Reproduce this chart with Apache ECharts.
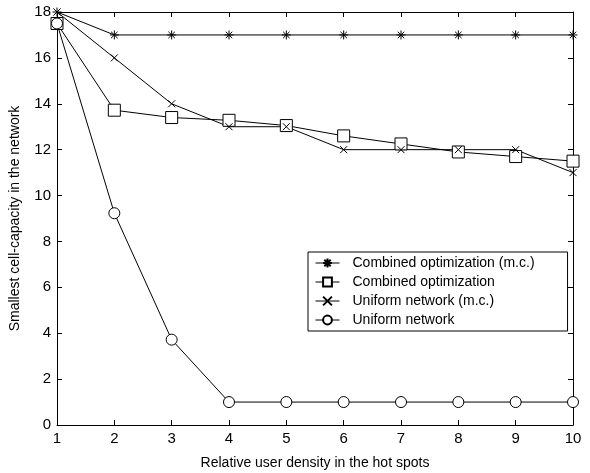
<!DOCTYPE html>
<html><head><meta charset="utf-8">
<script src="https://cdn.jsdelivr.net/npm/echarts@6/dist/echarts.min.js"></script>
<style>html,body{margin:0;padding:0;background:#fff}#c{width:590px;height:473px}</style>
</head><body><div id="c"></div>
<script>
const xCats = [1,2,3,4,5,6,7,8,9,10];
const combinedMC = [18,17,17,17,17,17,17,17,17,17];
const combined = [17.5,13.72,13.4,13.28,13.05,12.6,12.25,11.9,11.7,11.5];
const uniformMC = [18,16,14,13,13,12,12,12,12,11];
const uniform = [17.5,9.23,3.72,1,1,1,1,1,1,1];
const names = ['Combined optimization (m.c.)','Combined optimization','Uniform network (m.c.)','Uniform network'];

const starPath = 'path://M0,-1L0,1M-1,0L1,0M-0.72,-0.72L0.72,0.72M-0.72,0.72L0.72,-0.72';
const xPath = 'path://M-1,-1L1,1M-1,1L1,-1';
const font = 'Liberation Sans, Arial, sans-serif';

function pair(arr){ return arr.map((v,i)=>[xCats[i], v]); }
function ser(name, data, symbol, size){
  return {
    name, type:'line', data: pair(data), symbol, symbolSize: size,
    showAllSymbol: true,
    lineStyle:{color:'#000', width:1},
    itemStyle:{color: symbol.startsWith('path') ? 'none' : '#fff', borderColor:'#000', borderWidth:1},
    emphasis:{disabled:true}, animation:false, clip:false
  };
}
const chart = echarts.init(document.getElementById('c'));
const axisCommon = {
  axisLine:{show:true, onZero:false, lineStyle:{color:'#000', width:1}},
  axisTick:{show:true, inside:true, length:5, lineStyle:{color:'#000'}},
  splitLine:{show:false}
};
chart.setOption({
  animation:false,
  backgroundColor:'#fff',
  grid:{left:57, right:17, top:12, bottom:48, containLabel:false, outerBoundsMode:'none'},
  xAxis:[
    Object.assign({type:'value', min:1, max:10, interval:1, position:'bottom',
      name:'Relative user density in the hot spots', nameLocation:'middle', nameGap:31,
      nameTextStyle:{fontFamily:font, fontSize:14, color:'#000'},
      axisLabel:{fontFamily:font, fontSize:15, color:'#000', margin:6}}, axisCommon),
    Object.assign({type:'value', min:1, max:10, interval:1, position:'top', axisLabel:{show:false}}, axisCommon)
  ],
  yAxis:[
    Object.assign({type:'value', min:0, max:18, interval:2, position:'left',
      name:'Smallest cell-capacity in the network', nameLocation:'middle', nameGap:35,
      nameTextStyle:{fontFamily:font, fontSize:14, color:'#000'},
      axisLabel:{fontFamily:font, fontSize:15, color:'#000', margin:6}}, axisCommon),
    Object.assign({type:'value', min:0, max:18, interval:2, position:'right', axisLabel:{show:false}}, axisCommon)
  ],
  legend:{
    orient:'vertical', left:308, top:252, itemGap:5, itemWidth:24, itemHeight:11,
    backgroundColor:'#fff', borderColor:'#000', borderWidth:1, padding:[4,33,4,7],
    lineStyle:{width:1},
    textStyle:{fontFamily:font, fontSize:14, color:'#000', padding:[0,0,0,8]},
    data: names
  },
  series:[
    ser(names[0], combinedMC, starPath, 9),
    ser(names[1], combined, 'rect', 12),
    ser(names[2], uniformMC, xPath, 7),
    ser(names[3], uniform, 'circle', 11)
  ]
});
</script></body></html>
